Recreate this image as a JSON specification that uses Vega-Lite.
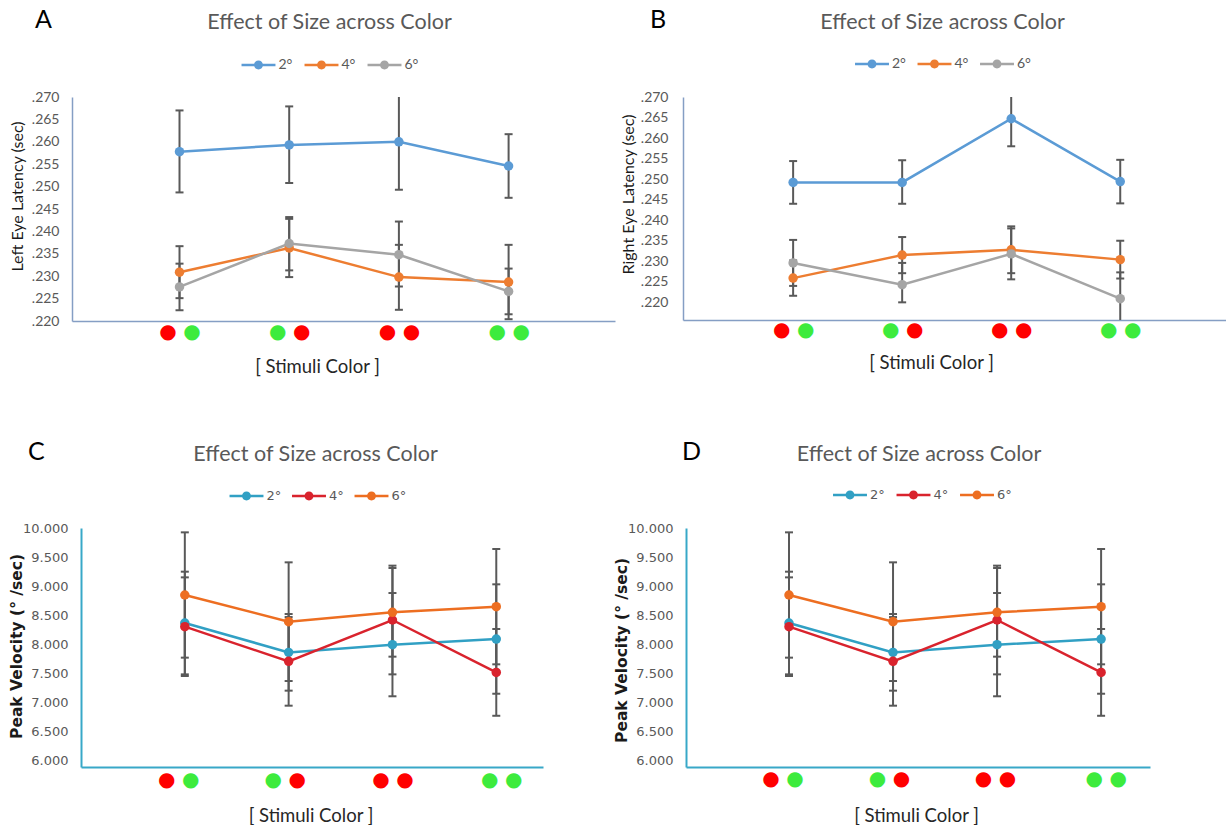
{
  "$schema": "https://vega.github.io/schema/vega-lite/v6.json",
  "background": "#ffffff",
  "padding": {"left": 9, "top": 7, "right": 0, "bottom": 0},
  "config": {"view": {"stroke": null}},
  "datasets": {
    "latency": [
      {"eye": "Left", "cond": 1, "size": "2°", "v": 0.2578, "lo": 0.2487, "hi": 0.2670},
      {"eye": "Left", "cond": 2, "size": "2°", "v": 0.2593, "lo": 0.2508, "hi": 0.2679},
      {"eye": "Left", "cond": 3, "size": "2°", "v": 0.2600, "lo": 0.2493, "hi": 0.2707},
      {"eye": "Left", "cond": 4, "size": "2°", "v": 0.2546, "lo": 0.2475, "hi": 0.2617},
      {"eye": "Left", "cond": 1, "size": "4°", "v": 0.2309, "lo": 0.2251, "hi": 0.2367},
      {"eye": "Left", "cond": 2, "size": "4°", "v": 0.2363, "lo": 0.2298, "hi": 0.2428},
      {"eye": "Left", "cond": 3, "size": "4°", "v": 0.2298, "lo": 0.2225, "hi": 0.2370},
      {"eye": "Left", "cond": 4, "size": "4°", "v": 0.2287, "lo": 0.2204, "hi": 0.2370},
      {"eye": "Left", "cond": 1, "size": "6°", "v": 0.2276, "lo": 0.2224, "hi": 0.2328},
      {"eye": "Left", "cond": 2, "size": "6°", "v": 0.2373, "lo": 0.2313, "hi": 0.2432},
      {"eye": "Left", "cond": 3, "size": "6°", "v": 0.2348, "lo": 0.2277, "hi": 0.2422},
      {"eye": "Left", "cond": 4, "size": "6°", "v": 0.2266, "lo": 0.2215, "hi": 0.2317},
      {"eye": "Right", "cond": 1, "size": "2°", "v": 0.2492, "lo": 0.2440, "hi": 0.2544},
      {"eye": "Right", "cond": 2, "size": "2°", "v": 0.2492, "lo": 0.2440, "hi": 0.2546},
      {"eye": "Right", "cond": 3, "size": "2°", "v": 0.2647, "lo": 0.2580, "hi": 0.2714},
      {"eye": "Right", "cond": 4, "size": "2°", "v": 0.2494, "lo": 0.2441, "hi": 0.2547},
      {"eye": "Right", "cond": 1, "size": "4°", "v": 0.2259, "lo": 0.2216, "hi": 0.2302},
      {"eye": "Right", "cond": 2, "size": "4°", "v": 0.2315, "lo": 0.2271, "hi": 0.2359},
      {"eye": "Right", "cond": 3, "size": "4°", "v": 0.2328, "lo": 0.2271, "hi": 0.2385},
      {"eye": "Right", "cond": 4, "size": "4°", "v": 0.2304, "lo": 0.2258, "hi": 0.2350},
      {"eye": "Right", "cond": 1, "size": "6°", "v": 0.2296, "lo": 0.2240, "hi": 0.2352},
      {"eye": "Right", "cond": 2, "size": "6°", "v": 0.2243, "lo": 0.2200, "hi": 0.2296},
      {"eye": "Right", "cond": 3, "size": "6°", "v": 0.2318, "lo": 0.2256, "hi": 0.2380},
      {"eye": "Right", "cond": 4, "size": "6°", "v": 0.2209, "lo": 0.2145, "hi": 0.2273}
    ],
    "velocity": [
      {"cond": 1, "size": "2°", "v": 8.362, "lo": 7.477, "hi": 9.247},
      {"cond": 2, "size": "2°", "v": 7.856, "lo": 7.196, "hi": 8.517},
      {"cond": 3, "size": "2°", "v": 7.989, "lo": 7.099, "hi": 8.879},
      {"cond": 4, "size": "2°", "v": 8.086, "lo": 7.143, "hi": 9.029},
      {"cond": 1, "size": "4°", "v": 8.299, "lo": 7.449, "hi": 9.149},
      {"cond": 2, "size": "4°", "v": 7.701, "lo": 6.937, "hi": 8.465},
      {"cond": 3, "size": "4°", "v": 8.414, "lo": 7.477, "hi": 9.351},
      {"cond": 4, "size": "4°", "v": 7.511, "lo": 6.763, "hi": 8.259},
      {"cond": 1, "size": "6°", "v": 8.845, "lo": 7.765, "hi": 9.925},
      {"cond": 2, "size": "6°", "v": 8.385, "lo": 7.362, "hi": 9.408},
      {"cond": 3, "size": "6°", "v": 8.546, "lo": 7.782, "hi": 9.310},
      {"cond": 4, "size": "6°", "v": 8.644, "lo": 7.650, "hi": 9.638}
    ]
  },
  "columns": 1,
  "align": "none",
  "spacing": 63,
  "resolve": {"scale": {"x": "independent", "y": "independent", "color": "independent"}, "legend": {"color": "independent"}},
  "concat": [
    {
      "spacing": 5,
      "resolve": {"scale": {"x": "independent", "y": "independent", "color": "independent"}, "legend": {"color": "independent"}},
      "hconcat": [
        {
          "title": {"text": "A", "anchor": "start", "frame": "group", "font": "Lato", "fontSize": 25, "fontWeight": "normal", "color": "#000000", "dx": -37, "dy": 25},
          "vconcat": [
            {
              "width": 543, "height": 224,
              "title": {"text": "Effect of Size across Color", "font": "Lato", "fontSize": 21.5, "fontWeight": "normal", "color": "#595959", "anchor": "middle", "dx": -14, "offset": 57},
              "data": {"name": "latency"},
              "transform": [{"filter": "datum.eye === 'Left'"}],
              "layer": [
                {
                  "encoding": {
                    "x": {"field": "cond", "type": "quantitative", "scale": {"domain": [0.02, 4.97], "nice": false, "zero": false},
                      "axis": {"values": [1, 2, 3, 4], "labelExpr": "'●'", "labelFont": "DejaVu Sans", "labelFontSize": 20,
                        "labelColor": {"condition": {"test": "datum.value == 1 || datum.value == 3", "value": "#FF0000"}, "value": "#3DEB3D"},
                        "labelOffset": -12, "labelPadding": 10, "labelBaseline": "middle", "labelOverlap": false, "labelFlush": false, "labelBound": false,
                        "ticks": false, "tickSize": 0, "grid": false, "domain": true, "domainColor": "#859EC4", "domainWidth": 1.5,
                        "title": "[ Stimuli Color ]", "titleFont": "Lato", "titleFontSize": 18.5, "titleFontWeight": "normal", "titleColor": "#262626",
                        "titleX": 245, "titleY": 45, "titleBaseline": "middle", "titleAlign": "center"}}
                  },
                  "layer": [
                    {"mark": {"type": "rule", "color": "#595959", "strokeWidth": 2, "clip": true},
                     "encoding": {
                       "y": {"field": "lo", "type": "quantitative", "scale": {"domain": [0.22, 0.27], "nice": false, "zero": false},
                         "axis": {"values": [0.22, 0.225, 0.23, 0.235, 0.24, 0.245, 0.25, 0.255, 0.26, 0.265, 0.27], "labelExpr": "substring(format(datum.value, '.3f'), 1)", "labelFont": "Lato", "labelFontSize": 14, "labelColor": "#595959", "labelPadding": 13, "ticks": false, "tickSize": 0, "grid": false, "domainColor": "#859EC4", "domainWidth": 1.5, "title": "Left Eye Latency (sec)", "titleFont": "Lato", "titleFontSize": 16, "titleFontWeight": "normal", "titleColor": "#1a1a1a", "titleX": -55, "titleY": 99, "titleAngle": 270, "titleAlign": "center", "titleBaseline": "middle"}},
                       "y2": {"field": "hi"}}},
                    {"mark": {"type": "tick", "orient": "horizontal", "color": "#595959", "size": 8, "thickness": 2, "opacity": 1, "clip": true},
                     "encoding": {
                       "y": {"field": "lo", "type": "quantitative", "scale": {"domain": [0.22, 0.27], "nice": false, "zero": false},
                         "axis": {"values": [0.22, 0.225, 0.23, 0.235, 0.24, 0.245, 0.25, 0.255, 0.26, 0.265, 0.27], "labelExpr": "substring(format(datum.value, '.3f'), 1)", "labelFont": "Lato", "labelFontSize": 14, "labelColor": "#595959", "labelPadding": 13, "ticks": false, "tickSize": 0, "grid": false, "domainColor": "#859EC4", "domainWidth": 1.5, "title": "Left Eye Latency (sec)", "titleFont": "Lato", "titleFontSize": 16, "titleFontWeight": "normal", "titleColor": "#1a1a1a", "titleX": -55, "titleY": 99, "titleAngle": 270, "titleAlign": "center", "titleBaseline": "middle"}}}},
                    {"mark": {"type": "tick", "orient": "horizontal", "color": "#595959", "size": 8, "thickness": 2, "opacity": 1, "clip": true},
                     "encoding": {
                       "y": {"field": "hi", "type": "quantitative", "scale": {"domain": [0.22, 0.27], "nice": false, "zero": false},
                         "axis": {"values": [0.22, 0.225, 0.23, 0.235, 0.24, 0.245, 0.25, 0.255, 0.26, 0.265, 0.27], "labelExpr": "substring(format(datum.value, '.3f'), 1)", "labelFont": "Lato", "labelFontSize": 14, "labelColor": "#595959", "labelPadding": 13, "ticks": false, "tickSize": 0, "grid": false, "domainColor": "#859EC4", "domainWidth": 1.5, "title": "Left Eye Latency (sec)", "titleFont": "Lato", "titleFontSize": 16, "titleFontWeight": "normal", "titleColor": "#1a1a1a", "titleX": -55, "titleY": 99, "titleAngle": 270, "titleAlign": "center", "titleBaseline": "middle"}}}},
                    {"mark": {"type": "line", "strokeWidth": 2.5},
                     "encoding": {
                       "y": {"field": "v", "type": "quantitative", "scale": {"domain": [0.22, 0.27], "nice": false, "zero": false},
                         "axis": {"values": [0.22, 0.225, 0.23, 0.235, 0.24, 0.245, 0.25, 0.255, 0.26, 0.265, 0.27], "labelExpr": "substring(format(datum.value, '.3f'), 1)", "labelFont": "Lato", "labelFontSize": 14, "labelColor": "#595959", "labelPadding": 13, "ticks": false, "tickSize": 0, "grid": false, "domainColor": "#859EC4", "domainWidth": 1.5, "title": "Left Eye Latency (sec)", "titleFont": "Lato", "titleFontSize": 16, "titleFontWeight": "normal", "titleColor": "#1a1a1a", "titleX": -55, "titleY": 99, "titleAngle": 270, "titleAlign": "center", "titleBaseline": "middle"}},
                       "color": {"field": "size", "type": "nominal", "scale": {"domain": ["2°", "4°", "6°"], "range": ["#5B9BD5", "#ED7D31", "#A5A5A5"]},
                         "legend": {"orient": "none", "legendX": 175.5, "legendY": -43, "direction": "horizontal", "title": null, "symbolType": "M-1.6,-0.12L1.6,-0.12L1.6,0.12L-1.6,0.12Z M0.42,0A0.42,0.42,0,1,1,-0.42,0A0.42,0.42,0,1,1,0.42,0Z", "symbolSize": 450, "symbolStrokeWidth": 0, "labelFont": "Lato", "labelFontSize": 14, "labelColor": "#595959", "labelOffset": 9, "columnPadding": 12, "padding": 0, "encode": {"symbols": {"update": {"size": {"value": 450}, "strokeWidth": {"value": 0}}}}}}}}
                  ]
                },
                {"mark": {"type": "point", "filled": true, "size": 90, "opacity": 1},
                 "encoding": {
                   "x": {"field": "cond", "type": "quantitative", "scale": {"domain": [0.02, 4.97], "nice": false, "zero": false},
                     "axis": {"orient": "bottom", "values": [1, 2, 3, 4], "labelExpr": "'●'", "labelFont": "DejaVu Sans", "labelFontSize": 20,
                       "labelColor": {"condition": {"test": "datum.value == 2 || datum.value == 3", "value": "#FF0000"}, "value": "#3DEB3D"},
                       "labelOffset": 12, "labelPadding": 10, "labelBaseline": "middle", "labelOverlap": false, "labelFlush": false, "labelBound": false,
                       "ticks": false, "tickSize": 0, "grid": false, "domain": false, "title": null}},
                   "y": {"field": "v", "type": "quantitative", "scale": {"domain": [0.22, 0.27], "nice": false, "zero": false},
                     "axis": {"values": [0.22, 0.225, 0.23, 0.235, 0.24, 0.245, 0.25, 0.255, 0.26, 0.265, 0.27], "labelExpr": "substring(format(datum.value, '.3f'), 1)", "labelFont": "Lato", "labelFontSize": 14, "labelColor": "#595959", "labelPadding": 13, "ticks": false, "tickSize": 0, "grid": false, "domainColor": "#859EC4", "domainWidth": 1.5, "title": "Left Eye Latency (sec)", "titleFont": "Lato", "titleFontSize": 16, "titleFontWeight": "normal", "titleColor": "#1a1a1a", "titleX": -55, "titleY": 99, "titleAngle": 270, "titleAlign": "center", "titleBaseline": "middle"}},
                   "color": {"field": "size", "type": "nominal", "scale": {"domain": ["2°", "4°", "6°"], "range": ["#5B9BD5", "#ED7D31", "#A5A5A5"]},
                     "legend": {"orient": "none", "legendX": 175.5, "legendY": -43, "direction": "horizontal", "title": null, "symbolType": "M-1.6,-0.12L1.6,-0.12L1.6,0.12L-1.6,0.12Z M0.42,0A0.42,0.42,0,1,1,-0.42,0A0.42,0.42,0,1,1,0.42,0Z", "symbolSize": 450, "symbolStrokeWidth": 0, "labelFont": "Lato", "labelFontSize": 14, "labelColor": "#595959", "labelOffset": 9, "columnPadding": 12, "padding": 0, "encode": {"symbols": {"update": {"size": {"value": 450}, "strokeWidth": {"value": 0}}}}}}}}
              ],
              "resolve": {"axis": {"x": "independent"}}
            }
          ]
        },
        {
          "title": {"text": "B", "anchor": "start", "frame": "group", "font": "Lato", "fontSize": 25, "fontWeight": "normal", "color": "#000000", "dx": -33, "dy": 25},
          "vconcat": [
            {
              "width": 543, "height": 223,
              "title": {"text": "Effect of Size across Color", "font": "Lato", "fontSize": 21.5, "fontWeight": "normal", "color": "#595959", "anchor": "middle", "dx": -12, "offset": 57},
              "data": {"name": "latency"},
              "transform": [{"filter": "datum.eye === 'Right'"}],
              "layer": [
                {
                  "encoding": {
                    "x": {"field": "cond", "type": "quantitative", "scale": {"domain": [-0.01, 4.97], "nice": false, "zero": false},
                      "axis": {"values": [1, 2, 3, 4], "labelExpr": "'●'", "labelFont": "DejaVu Sans", "labelFontSize": 20,
                        "labelColor": {"condition": {"test": "datum.value == 1 || datum.value == 3", "value": "#FF0000"}, "value": "#3DEB3D"},
                        "labelOffset": -12, "labelPadding": 9, "labelBaseline": "middle", "labelOverlap": false, "labelFlush": false, "labelBound": false,
                        "ticks": false, "tickSize": 0, "grid": false, "domain": true, "domainColor": "#859EC4", "domainWidth": 1.5,
                        "title": "[ Stimuli Color ]", "titleFont": "Lato", "titleFontSize": 18.5, "titleFontWeight": "normal", "titleColor": "#262626",
                        "titleX": 248, "titleY": 42, "titleBaseline": "middle", "titleAlign": "center"}}
                  },
                  "layer": [
                    {"mark": {"type": "rule", "color": "#595959", "strokeWidth": 2, "clip": true},
                     "encoding": {
                       "y": {"field": "lo", "type": "quantitative", "scale": {"domain": [0.2157, 0.27], "nice": false, "zero": false},
                         "axis": {"values": [0.22, 0.225, 0.23, 0.235, 0.24, 0.245, 0.25, 0.255, 0.26, 0.265, 0.27], "labelExpr": "substring(format(datum.value, '.3f'), 1)", "labelFont": "Lato", "labelFontSize": 14, "labelColor": "#595959", "labelPadding": 15, "ticks": false, "tickSize": 0, "grid": false, "domainColor": "#859EC4", "domainWidth": 1.5, "title": "Right Eye Latency (sec)", "titleFont": "Lato", "titleFontSize": 16, "titleFontWeight": "normal", "titleColor": "#1a1a1a", "titleX": -55, "titleY": 97, "titleAngle": 270, "titleAlign": "center", "titleBaseline": "middle"}},
                       "y2": {"field": "hi"}}},
                    {"mark": {"type": "tick", "orient": "horizontal", "color": "#595959", "size": 8, "thickness": 2, "opacity": 1, "clip": true},
                     "encoding": {
                       "y": {"field": "lo", "type": "quantitative", "scale": {"domain": [0.2157, 0.27], "nice": false, "zero": false},
                         "axis": {"values": [0.22, 0.225, 0.23, 0.235, 0.24, 0.245, 0.25, 0.255, 0.26, 0.265, 0.27], "labelExpr": "substring(format(datum.value, '.3f'), 1)", "labelFont": "Lato", "labelFontSize": 14, "labelColor": "#595959", "labelPadding": 15, "ticks": false, "tickSize": 0, "grid": false, "domainColor": "#859EC4", "domainWidth": 1.5, "title": "Right Eye Latency (sec)", "titleFont": "Lato", "titleFontSize": 16, "titleFontWeight": "normal", "titleColor": "#1a1a1a", "titleX": -55, "titleY": 97, "titleAngle": 270, "titleAlign": "center", "titleBaseline": "middle"}}}},
                    {"mark": {"type": "tick", "orient": "horizontal", "color": "#595959", "size": 8, "thickness": 2, "opacity": 1, "clip": true},
                     "encoding": {
                       "y": {"field": "hi", "type": "quantitative", "scale": {"domain": [0.2157, 0.27], "nice": false, "zero": false},
                         "axis": {"values": [0.22, 0.225, 0.23, 0.235, 0.24, 0.245, 0.25, 0.255, 0.26, 0.265, 0.27], "labelExpr": "substring(format(datum.value, '.3f'), 1)", "labelFont": "Lato", "labelFontSize": 14, "labelColor": "#595959", "labelPadding": 15, "ticks": false, "tickSize": 0, "grid": false, "domainColor": "#859EC4", "domainWidth": 1.5, "title": "Right Eye Latency (sec)", "titleFont": "Lato", "titleFontSize": 16, "titleFontWeight": "normal", "titleColor": "#1a1a1a", "titleX": -55, "titleY": 97, "titleAngle": 270, "titleAlign": "center", "titleBaseline": "middle"}}}},
                    {"mark": {"type": "line", "strokeWidth": 2.5},
                     "encoding": {
                       "y": {"field": "v", "type": "quantitative", "scale": {"domain": [0.2157, 0.27], "nice": false, "zero": false},
                         "axis": {"values": [0.22, 0.225, 0.23, 0.235, 0.24, 0.245, 0.25, 0.255, 0.26, 0.265, 0.27], "labelExpr": "substring(format(datum.value, '.3f'), 1)", "labelFont": "Lato", "labelFontSize": 14, "labelColor": "#595959", "labelPadding": 15, "ticks": false, "tickSize": 0, "grid": false, "domainColor": "#859EC4", "domainWidth": 1.5, "title": "Right Eye Latency (sec)", "titleFont": "Lato", "titleFontSize": 16, "titleFontWeight": "normal", "titleColor": "#1a1a1a", "titleX": -55, "titleY": 97, "titleAngle": 270, "titleAlign": "center", "titleBaseline": "middle"}},
                       "color": {"field": "size", "type": "nominal", "scale": {"domain": ["2°", "4°", "6°"], "range": ["#5B9BD5", "#ED7D31", "#A5A5A5"]},
                         "legend": {"orient": "none", "legendX": 178, "legendY": -44, "direction": "horizontal", "title": null, "symbolType": "M-1.6,-0.12L1.6,-0.12L1.6,0.12L-1.6,0.12Z M0.42,0A0.42,0.42,0,1,1,-0.42,0A0.42,0.42,0,1,1,0.42,0Z", "symbolSize": 450, "symbolStrokeWidth": 0, "labelFont": "Lato", "labelFontSize": 14, "labelColor": "#595959", "labelOffset": 9, "columnPadding": 11.5, "padding": 0, "encode": {"symbols": {"update": {"size": {"value": 450}, "strokeWidth": {"value": 0}}}}}}}}
                  ]
                },
                {"mark": {"type": "point", "filled": true, "size": 90, "opacity": 1},
                 "encoding": {
                   "x": {"field": "cond", "type": "quantitative", "scale": {"domain": [-0.01, 4.97], "nice": false, "zero": false},
                     "axis": {"orient": "bottom", "values": [1, 2, 3, 4], "labelExpr": "'●'", "labelFont": "DejaVu Sans", "labelFontSize": 20,
                       "labelColor": {"condition": {"test": "datum.value == 2 || datum.value == 3", "value": "#FF0000"}, "value": "#3DEB3D"},
                       "labelOffset": 12, "labelPadding": 9, "labelBaseline": "middle", "labelOverlap": false, "labelFlush": false, "labelBound": false,
                       "ticks": false, "tickSize": 0, "grid": false, "domain": false, "title": null}},
                   "y": {"field": "v", "type": "quantitative", "scale": {"domain": [0.2157, 0.27], "nice": false, "zero": false},
                     "axis": {"values": [0.22, 0.225, 0.23, 0.235, 0.24, 0.245, 0.25, 0.255, 0.26, 0.265, 0.27], "labelExpr": "substring(format(datum.value, '.3f'), 1)", "labelFont": "Lato", "labelFontSize": 14, "labelColor": "#595959", "labelPadding": 15, "ticks": false, "tickSize": 0, "grid": false, "domainColor": "#859EC4", "domainWidth": 1.5, "title": "Right Eye Latency (sec)", "titleFont": "Lato", "titleFontSize": 16, "titleFontWeight": "normal", "titleColor": "#1a1a1a", "titleX": -55, "titleY": 97, "titleAngle": 270, "titleAlign": "center", "titleBaseline": "middle"}},
                   "color": {"field": "size", "type": "nominal", "scale": {"domain": ["2°", "4°", "6°"], "range": ["#5B9BD5", "#ED7D31", "#A5A5A5"]},
                     "legend": {"orient": "none", "legendX": 178, "legendY": -44, "direction": "horizontal", "title": null, "symbolType": "M-1.6,-0.12L1.6,-0.12L1.6,0.12L-1.6,0.12Z M0.42,0A0.42,0.42,0,1,1,-0.42,0A0.42,0.42,0,1,1,0.42,0Z", "symbolSize": 450, "symbolStrokeWidth": 0, "labelFont": "Lato", "labelFontSize": 14, "labelColor": "#595959", "labelOffset": 9, "columnPadding": 11.5, "padding": 0, "encode": {"symbols": {"update": {"size": {"value": 450}, "strokeWidth": {"value": 0}}}}}}}}
              ],
              "resolve": {"axis": {"x": "independent"}}
            }
          ]
        }
      ]
    },
    {
      "spacing": 71,
      "resolve": {"scale": {"x": "independent", "y": "independent", "color": "independent"}, "legend": {"color": "independent"}},
      "hconcat": [
        {
          "title": {"text": "C", "anchor": "start", "frame": "group", "font": "Lato", "fontSize": 25, "fontWeight": "normal", "color": "#000000", "dx": -44, "dy": 25},
          "vconcat": [
            {
              "width": 471, "height": 239,
              "title": {"text": "Effect of Size across Color", "font": "Lato", "fontSize": 21.5, "fontWeight": "normal", "color": "#595959", "anchor": "middle", "dx": 8, "offset": 57},
              "data": {"name": "velocity"},
              "layer": [
                {
                  "encoding": {
                    "x": {"field": "cond", "type": "quantitative", "scale": {"domain": [0, 4.45], "range": [9, 471], "nice": false, "zero": false},
                      "axis": {"values": [1, 2, 3, 4], "labelExpr": "'●'", "labelFont": "DejaVu Sans", "labelFontSize": 20,
                        "labelColor": {"condition": {"test": "datum.value == 1 || datum.value == 3", "value": "#FF0000"}, "value": "#3DEB3D"},
                        "labelOffset": {"condition": [{"test": "datum.value == 1", "value": -18.5}, {"test": "datum.value == 2", "value": -16}, {"test": "datum.value == 4", "value": -7}], "value": -12},
                        "labelPadding": 12, "labelBaseline": "middle", "labelOverlap": false, "labelFlush": false, "labelBound": false,
                        "ticks": false, "tickSize": 0, "grid": false, "domain": true, "domainColor": "#38A8C8", "domainWidth": 2,
                        "title": "[ Stimuli Color ]", "titleFont": "Lato", "titleFontSize": 18.5, "titleFontWeight": "normal", "titleColor": "#262626",
                        "titleX": 238.5, "titleY": 48, "titleBaseline": "middle", "titleAlign": "center"}}
                  },
                  "layer": [
                    {"mark": {"type": "rule", "color": "#595959", "strokeWidth": 2, "clip": true},
                     "encoding": {
                       "y": {"field": "lo", "type": "quantitative", "scale": {"domain": [5.88, 10], "nice": false, "zero": false},
                         "axis": {"offset": -9, "values": [6, 6.5, 7, 7.5, 8, 8.5, 9, 9.5, 10], "format": ".3f", "labelFont": "DejaVu Sans", "labelFontSize": 13, "labelColor": "#595959", "labelPadding": 13, "ticks": false, "tickSize": 0, "grid": false, "domainColor": "#38A8C8", "domainWidth": 2, "title": "Peak Velocity (°  /sec)", "titleFont": "DejaVu Sans", "titleFontSize": 15.5, "titleFontWeight": "bold", "titleColor": "#1a1a1a", "titleX": -65, "titleY": 118, "titleAngle": 270, "titleAlign": "center", "titleBaseline": "middle"}},
                       "y2": {"field": "hi"}}},
                    {"mark": {"type": "tick", "orient": "horizontal", "color": "#595959", "size": 8, "thickness": 2, "opacity": 1, "clip": true},
                     "encoding": {
                       "y": {"field": "lo", "type": "quantitative", "scale": {"domain": [5.88, 10], "nice": false, "zero": false},
                         "axis": {"offset": -9, "values": [6, 6.5, 7, 7.5, 8, 8.5, 9, 9.5, 10], "format": ".3f", "labelFont": "DejaVu Sans", "labelFontSize": 13, "labelColor": "#595959", "labelPadding": 13, "ticks": false, "tickSize": 0, "grid": false, "domainColor": "#38A8C8", "domainWidth": 2, "title": "Peak Velocity (°  /sec)", "titleFont": "DejaVu Sans", "titleFontSize": 15.5, "titleFontWeight": "bold", "titleColor": "#1a1a1a", "titleX": -65, "titleY": 118, "titleAngle": 270, "titleAlign": "center", "titleBaseline": "middle"}}}},
                    {"mark": {"type": "tick", "orient": "horizontal", "color": "#595959", "size": 8, "thickness": 2, "opacity": 1, "clip": true},
                     "encoding": {
                       "y": {"field": "hi", "type": "quantitative", "scale": {"domain": [5.88, 10], "nice": false, "zero": false},
                         "axis": {"offset": -9, "values": [6, 6.5, 7, 7.5, 8, 8.5, 9, 9.5, 10], "format": ".3f", "labelFont": "DejaVu Sans", "labelFontSize": 13, "labelColor": "#595959", "labelPadding": 13, "ticks": false, "tickSize": 0, "grid": false, "domainColor": "#38A8C8", "domainWidth": 2, "title": "Peak Velocity (°  /sec)", "titleFont": "DejaVu Sans", "titleFontSize": 15.5, "titleFontWeight": "bold", "titleColor": "#1a1a1a", "titleX": -65, "titleY": 118, "titleAngle": 270, "titleAlign": "center", "titleBaseline": "middle"}}}},
                    {"mark": {"type": "line", "strokeWidth": 2.5},
                     "encoding": {
                       "y": {"field": "v", "type": "quantitative", "scale": {"domain": [5.88, 10], "nice": false, "zero": false},
                         "axis": {"offset": -9, "values": [6, 6.5, 7, 7.5, 8, 8.5, 9, 9.5, 10], "format": ".3f", "labelFont": "DejaVu Sans", "labelFontSize": 13, "labelColor": "#595959", "labelPadding": 13, "ticks": false, "tickSize": 0, "grid": false, "domainColor": "#38A8C8", "domainWidth": 2, "title": "Peak Velocity (°  /sec)", "titleFont": "DejaVu Sans", "titleFontSize": 15.5, "titleFontWeight": "bold", "titleColor": "#1a1a1a", "titleX": -65, "titleY": 118, "titleAngle": 270, "titleAlign": "center", "titleBaseline": "middle"}},
                       "color": {"field": "size", "type": "nominal", "scale": {"domain": ["2°", "4°", "6°"], "range": ["#31A0C4", "#D9232D", "#ED6E21"]},
                         "legend": {"orient": "none", "legendX": 163.5, "legendY": -43, "direction": "horizontal", "title": null, "symbolType": "M-1.6,-0.12L1.6,-0.12L1.6,0.12L-1.6,0.12Z M0.42,0A0.42,0.42,0,1,1,-0.42,0A0.42,0.42,0,1,1,0.42,0Z", "symbolSize": 450, "symbolStrokeWidth": 0, "labelFont": "DejaVu Sans", "labelFontSize": 13, "labelColor": "#595959", "labelOffset": 9, "columnPadding": 10.5, "padding": 0, "encode": {"symbols": {"update": {"size": {"value": 450}, "strokeWidth": {"value": 0}}}}}}}}
                  ]
                },
                {"mark": {"type": "point", "filled": true, "size": 90, "opacity": 1},
                 "encoding": {
                   "x": {"field": "cond", "type": "quantitative", "scale": {"domain": [0, 4.45], "range": [9, 471], "nice": false, "zero": false},
                     "axis": {"orient": "bottom", "values": [1, 2, 3, 4], "labelExpr": "'●'", "labelFont": "DejaVu Sans", "labelFontSize": 20,
                       "labelColor": {"condition": {"test": "datum.value == 2 || datum.value == 3", "value": "#FF0000"}, "value": "#3DEB3D"},
                       "labelOffset": {"condition": [{"test": "datum.value == 1", "value": 5.5}, {"test": "datum.value == 2", "value": 8}, {"test": "datum.value == 4", "value": 17}], "value": 12},
                       "labelPadding": 12, "labelBaseline": "middle", "labelOverlap": false, "labelFlush": false, "labelBound": false,
                       "ticks": false, "tickSize": 0, "grid": false, "domain": false, "title": null}},
                   "y": {"field": "v", "type": "quantitative", "scale": {"domain": [5.88, 10], "nice": false, "zero": false},
                     "axis": {"offset": -9, "values": [6, 6.5, 7, 7.5, 8, 8.5, 9, 9.5, 10], "format": ".3f", "labelFont": "DejaVu Sans", "labelFontSize": 13, "labelColor": "#595959", "labelPadding": 13, "ticks": false, "tickSize": 0, "grid": false, "domainColor": "#38A8C8", "domainWidth": 2, "title": "Peak Velocity (°  /sec)", "titleFont": "DejaVu Sans", "titleFontSize": 15.5, "titleFontWeight": "bold", "titleColor": "#1a1a1a", "titleX": -65, "titleY": 118, "titleAngle": 270, "titleAlign": "center", "titleBaseline": "middle"}},
                   "color": {"field": "size", "type": "nominal", "scale": {"domain": ["2°", "4°", "6°"], "range": ["#31A0C4", "#D9232D", "#ED6E21"]},
                     "legend": {"orient": "none", "legendX": 163.5, "legendY": -43, "direction": "horizontal", "title": null, "symbolType": "M-1.6,-0.12L1.6,-0.12L1.6,0.12L-1.6,0.12Z M0.42,0A0.42,0.42,0,1,1,-0.42,0A0.42,0.42,0,1,1,0.42,0Z", "symbolSize": 450, "symbolStrokeWidth": 0, "labelFont": "DejaVu Sans", "labelFontSize": 13, "labelColor": "#595959", "labelOffset": 9, "columnPadding": 10.5, "padding": 0, "encode": {"symbols": {"update": {"size": {"value": 450}, "strokeWidth": {"value": 0}}}}}}}}
              ],
              "resolve": {"axis": {"x": "independent"}}
            }
          ]
        },
        {
          "title": {"text": "D", "anchor": "start", "frame": "group", "font": "Lato", "fontSize": 25, "fontWeight": "normal", "color": "#000000", "dx": -4, "dy": 25},
          "vconcat": [
            {
              "width": 464, "height": 239,
              "title": {"text": "Effect of Size across Color", "font": "Lato", "fontSize": 21.5, "fontWeight": "normal", "color": "#595959", "anchor": "middle", "dx": 1, "offset": 57},
              "data": {"name": "velocity"},
              "layer": [
                {
                  "encoding": {
                    "x": {"field": "cond", "type": "quantitative", "scale": {"domain": [0.01, 4.47], "nice": false, "zero": false},
                      "axis": {"values": [1, 2, 3, 4], "labelExpr": "'●'", "labelFont": "DejaVu Sans", "labelFontSize": 20,
                        "labelColor": {"condition": {"test": "datum.value == 1 || datum.value == 3", "value": "#FF0000"}, "value": "#3DEB3D"},
                        "labelOffset": {"condition": [{"test": "datum.value == 1", "value": -18.5}, {"test": "datum.value == 2", "value": -16}, {"test": "datum.value == 3", "value": -14}, {"test": "datum.value == 4", "value": -7.5}], "value": -12},
                        "labelPadding": 11, "labelBaseline": "middle", "labelOverlap": false, "labelFlush": false, "labelBound": false,
                        "ticks": false, "tickSize": 0, "grid": false, "domain": true, "domainColor": "#38A8C8", "domainWidth": 2,
                        "title": "[ Stimuli Color ]", "titleFont": "Lato", "titleFontSize": 18.5, "titleFontWeight": "normal", "titleColor": "#262626",
                        "titleX": 230, "titleY": 48, "titleBaseline": "middle", "titleAlign": "center"}}
                  },
                  "layer": [
                    {"mark": {"type": "rule", "color": "#595959", "strokeWidth": 2, "clip": true},
                     "encoding": {
                       "y": {"field": "lo", "type": "quantitative", "scale": {"domain": [5.88, 10], "nice": false, "zero": false},
                         "axis": {"values": [6, 6.5, 7, 7.5, 8, 8.5, 9, 9.5, 10], "format": ".3f", "labelFont": "DejaVu Sans", "labelFontSize": 13, "labelColor": "#595959", "labelPadding": 13, "ticks": false, "tickSize": 0, "grid": false, "domainColor": "#38A8C8", "domainWidth": 2, "title": "Peak Velocity (°  /sec)", "titleFont": "DejaVu Sans", "titleFontSize": 15.5, "titleFontWeight": "bold", "titleColor": "#1a1a1a", "titleX": -65, "titleY": 122, "titleAngle": 270, "titleAlign": "center", "titleBaseline": "middle"}},
                       "y2": {"field": "hi"}}},
                    {"mark": {"type": "tick", "orient": "horizontal", "color": "#595959", "size": 8, "thickness": 2, "opacity": 1, "clip": true},
                     "encoding": {
                       "y": {"field": "lo", "type": "quantitative", "scale": {"domain": [5.88, 10], "nice": false, "zero": false},
                         "axis": {"values": [6, 6.5, 7, 7.5, 8, 8.5, 9, 9.5, 10], "format": ".3f", "labelFont": "DejaVu Sans", "labelFontSize": 13, "labelColor": "#595959", "labelPadding": 13, "ticks": false, "tickSize": 0, "grid": false, "domainColor": "#38A8C8", "domainWidth": 2, "title": "Peak Velocity (°  /sec)", "titleFont": "DejaVu Sans", "titleFontSize": 15.5, "titleFontWeight": "bold", "titleColor": "#1a1a1a", "titleX": -65, "titleY": 122, "titleAngle": 270, "titleAlign": "center", "titleBaseline": "middle"}}}},
                    {"mark": {"type": "tick", "orient": "horizontal", "color": "#595959", "size": 8, "thickness": 2, "opacity": 1, "clip": true},
                     "encoding": {
                       "y": {"field": "hi", "type": "quantitative", "scale": {"domain": [5.88, 10], "nice": false, "zero": false},
                         "axis": {"values": [6, 6.5, 7, 7.5, 8, 8.5, 9, 9.5, 10], "format": ".3f", "labelFont": "DejaVu Sans", "labelFontSize": 13, "labelColor": "#595959", "labelPadding": 13, "ticks": false, "tickSize": 0, "grid": false, "domainColor": "#38A8C8", "domainWidth": 2, "title": "Peak Velocity (°  /sec)", "titleFont": "DejaVu Sans", "titleFontSize": 15.5, "titleFontWeight": "bold", "titleColor": "#1a1a1a", "titleX": -65, "titleY": 122, "titleAngle": 270, "titleAlign": "center", "titleBaseline": "middle"}}}},
                    {"mark": {"type": "line", "strokeWidth": 2.5},
                     "encoding": {
                       "y": {"field": "v", "type": "quantitative", "scale": {"domain": [5.88, 10], "nice": false, "zero": false},
                         "axis": {"values": [6, 6.5, 7, 7.5, 8, 8.5, 9, 9.5, 10], "format": ".3f", "labelFont": "DejaVu Sans", "labelFontSize": 13, "labelColor": "#595959", "labelPadding": 13, "ticks": false, "tickSize": 0, "grid": false, "domainColor": "#38A8C8", "domainWidth": 2, "title": "Peak Velocity (°  /sec)", "titleFont": "DejaVu Sans", "titleFontSize": 15.5, "titleFontWeight": "bold", "titleColor": "#1a1a1a", "titleX": -65, "titleY": 122, "titleAngle": 270, "titleAlign": "center", "titleBaseline": "middle"}},
                       "color": {"field": "size", "type": "nominal", "scale": {"domain": ["2°", "4°", "6°"], "range": ["#31A0C4", "#D9232D", "#ED6E21"]},
                         "legend": {"orient": "none", "legendX": 153, "legendY": -44, "direction": "horizontal", "title": null, "symbolType": "M-1.6,-0.12L1.6,-0.12L1.6,0.12L-1.6,0.12Z M0.42,0A0.42,0.42,0,1,1,-0.42,0A0.42,0.42,0,1,1,0.42,0Z", "symbolSize": 450, "symbolStrokeWidth": 0, "labelFont": "DejaVu Sans", "labelFontSize": 13, "labelColor": "#595959", "labelOffset": 9, "columnPadding": 11.5, "padding": 0, "encode": {"symbols": {"update": {"size": {"value": 450}, "strokeWidth": {"value": 0}}}}}}}}
                  ]
                },
                {"mark": {"type": "point", "filled": true, "size": 90, "opacity": 1},
                 "encoding": {
                   "x": {"field": "cond", "type": "quantitative", "scale": {"domain": [0.01, 4.47], "nice": false, "zero": false},
                     "axis": {"orient": "bottom", "values": [1, 2, 3, 4], "labelExpr": "'●'", "labelFont": "DejaVu Sans", "labelFontSize": 20,
                       "labelColor": {"condition": {"test": "datum.value == 2 || datum.value == 3", "value": "#FF0000"}, "value": "#3DEB3D"},
                       "labelOffset": {"condition": [{"test": "datum.value == 1", "value": 5.5}, {"test": "datum.value == 2", "value": 8}, {"test": "datum.value == 3", "value": 10}, {"test": "datum.value == 4", "value": 16.5}], "value": 12},
                       "labelPadding": 11, "labelBaseline": "middle", "labelOverlap": false, "labelFlush": false, "labelBound": false,
                       "ticks": false, "tickSize": 0, "grid": false, "domain": false, "title": null}},
                   "y": {"field": "v", "type": "quantitative", "scale": {"domain": [5.88, 10], "nice": false, "zero": false},
                     "axis": {"values": [6, 6.5, 7, 7.5, 8, 8.5, 9, 9.5, 10], "format": ".3f", "labelFont": "DejaVu Sans", "labelFontSize": 13, "labelColor": "#595959", "labelPadding": 13, "ticks": false, "tickSize": 0, "grid": false, "domainColor": "#38A8C8", "domainWidth": 2, "title": "Peak Velocity (°  /sec)", "titleFont": "DejaVu Sans", "titleFontSize": 15.5, "titleFontWeight": "bold", "titleColor": "#1a1a1a", "titleX": -65, "titleY": 122, "titleAngle": 270, "titleAlign": "center", "titleBaseline": "middle"}},
                   "color": {"field": "size", "type": "nominal", "scale": {"domain": ["2°", "4°", "6°"], "range": ["#31A0C4", "#D9232D", "#ED6E21"]},
                     "legend": {"orient": "none", "legendX": 153, "legendY": -44, "direction": "horizontal", "title": null, "symbolType": "M-1.6,-0.12L1.6,-0.12L1.6,0.12L-1.6,0.12Z M0.42,0A0.42,0.42,0,1,1,-0.42,0A0.42,0.42,0,1,1,0.42,0Z", "symbolSize": 450, "symbolStrokeWidth": 0, "labelFont": "DejaVu Sans", "labelFontSize": 13, "labelColor": "#595959", "labelOffset": 9, "columnPadding": 11.5, "padding": 0, "encode": {"symbols": {"update": {"size": {"value": 450}, "strokeWidth": {"value": 0}}}}}}}}
              ],
              "resolve": {"axis": {"x": "independent"}}
            }
          ]
        }
      ]
    }
  ]
}
